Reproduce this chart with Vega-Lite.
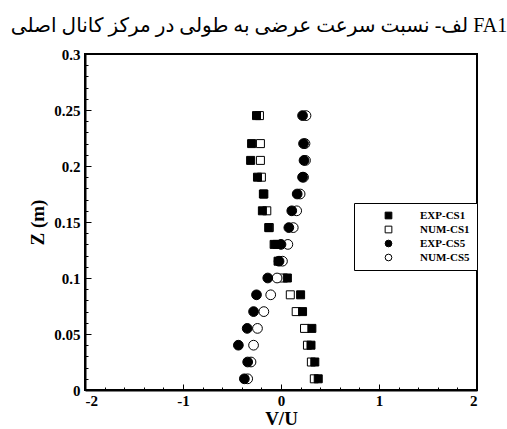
{
  "$schema": "https://vega.github.io/schema/vega-lite/v6.json",
  "autosize": "none",
  "width": 392,
  "height": 336,
  "padding": {"left": 85, "top": 54, "right": 30, "bottom": 39},
  "background": "white",
  "title": {
    "text": "\u200Eلف- نسبت سرعت عرضی به طولی در مرکز کانال اصلی FA1",
    "font": "Liberation Serif, DejaVu Sans",
    "fontSize": 20,
    "fontWeight": "normal",
    "color": "black",
    "anchor": "middle",
    "dx": -22,
    "offset": 11
  },
  "config": {
    "view": {"stroke": "black", "strokeWidth": 2},
    "axis": {
      "domainColor": "black",
      "domainWidth": 2,
      "tickColor": "black",
      "tickWidth": 1,
      "grid": false,
      "labelFont": "Liberation Serif",
      "labelFontWeight": "bold",
      "labelFontSize": 15,
      "labelColor": "black",
      "titleFont": "Liberation Serif",
      "titleFontWeight": "bold",
      "titleFontSize": 19,
      "titleColor": "black",
      "labelOverlap": false
    },
    "legend": {
      "title": null,
      "strokeColor": "black",
      "fillColor": "white",
      "padding": 7,
      "symbolOffset": 22,
      "labelOffset": 26,
      "symbolSize": 45,
      "symbolStrokeColor": "black",
      "symbolStrokeWidth": 1,
      "labelFont": "Liberation Serif",
      "labelFontWeight": "bold",
      "labelFontSize": 11,
      "labelColor": "black",
      "rowPadding": 2,
      "orient": "none",
      "legendX": 269,
      "legendY": 149
    }
  },
  "data": {
    "values": [
      {"series": "NUM-CS1", "z": 0.245, "v": -0.22},
      {"series": "NUM-CS1", "z": 0.22, "v": -0.21},
      {"series": "NUM-CS1", "z": 0.205, "v": -0.21},
      {"series": "NUM-CS1", "z": 0.19, "v": -0.2},
      {"series": "NUM-CS1", "z": 0.175, "v": -0.175},
      {"series": "NUM-CS1", "z": 0.16, "v": -0.145},
      {"series": "NUM-CS1", "z": 0.145, "v": -0.12},
      {"series": "NUM-CS1", "z": 0.13, "v": -0.04},
      {"series": "NUM-CS1", "z": 0.115, "v": -0.01},
      {"series": "NUM-CS1", "z": 0.1, "v": 0.025},
      {"series": "NUM-CS1", "z": 0.085, "v": 0.095},
      {"series": "NUM-CS1", "z": 0.07, "v": 0.155},
      {"series": "NUM-CS1", "z": 0.055, "v": 0.24},
      {"series": "NUM-CS1", "z": 0.04, "v": 0.27},
      {"series": "NUM-CS1", "z": 0.025, "v": 0.31},
      {"series": "NUM-CS1", "z": 0.01, "v": 0.34},
      {"series": "NUM-CS5", "z": 0.245, "v": 0.255},
      {"series": "NUM-CS5", "z": 0.22, "v": 0.245},
      {"series": "NUM-CS5", "z": 0.205, "v": 0.25},
      {"series": "NUM-CS5", "z": 0.19, "v": 0.23},
      {"series": "NUM-CS5", "z": 0.175, "v": 0.195},
      {"series": "NUM-CS5", "z": 0.16, "v": 0.16},
      {"series": "NUM-CS5", "z": 0.145, "v": 0.125},
      {"series": "NUM-CS5", "z": 0.13, "v": 0.07},
      {"series": "NUM-CS5", "z": 0.115, "v": 0.015},
      {"series": "NUM-CS5", "z": 0.1, "v": -0.04},
      {"series": "NUM-CS5", "z": 0.085, "v": -0.105},
      {"series": "NUM-CS5", "z": 0.07, "v": -0.175},
      {"series": "NUM-CS5", "z": 0.055, "v": -0.24},
      {"series": "NUM-CS5", "z": 0.04, "v": -0.28},
      {"series": "NUM-CS5", "z": 0.025, "v": -0.306},
      {"series": "NUM-CS5", "z": 0.01, "v": -0.34},
      {"series": "EXP-CS1", "z": 0.245, "v": -0.25},
      {"series": "EXP-CS1", "z": 0.22, "v": -0.3},
      {"series": "EXP-CS1", "z": 0.205, "v": -0.31},
      {"series": "EXP-CS1", "z": 0.19, "v": -0.24},
      {"series": "EXP-CS1", "z": 0.175, "v": -0.18},
      {"series": "EXP-CS1", "z": 0.16, "v": -0.19},
      {"series": "EXP-CS1", "z": 0.145, "v": -0.125},
      {"series": "EXP-CS1", "z": 0.13, "v": -0.07},
      {"series": "EXP-CS1", "z": 0.115, "v": -0.03},
      {"series": "EXP-CS1", "z": 0.1, "v": 0.065},
      {"series": "EXP-CS1", "z": 0.085, "v": 0.2},
      {"series": "EXP-CS1", "z": 0.07, "v": 0.22},
      {"series": "EXP-CS1", "z": 0.055, "v": 0.315},
      {"series": "EXP-CS1", "z": 0.04, "v": 0.306},
      {"series": "EXP-CS1", "z": 0.025, "v": 0.345},
      {"series": "EXP-CS1", "z": 0.01, "v": 0.38},
      {"series": "EXP-CS5", "z": 0.245, "v": 0.22},
      {"series": "EXP-CS5", "z": 0.22, "v": 0.23},
      {"series": "EXP-CS5", "z": 0.205, "v": 0.235},
      {"series": "EXP-CS5", "z": 0.19, "v": 0.22},
      {"series": "EXP-CS5", "z": 0.175, "v": 0.165},
      {"series": "EXP-CS5", "z": 0.16, "v": 0.11},
      {"series": "EXP-CS5", "z": 0.145, "v": 0.08},
      {"series": "EXP-CS5", "z": 0.13, "v": 0.0},
      {"series": "EXP-CS5", "z": 0.115, "v": -0.02},
      {"series": "EXP-CS5", "z": 0.1, "v": -0.135},
      {"series": "EXP-CS5", "z": 0.085, "v": -0.25},
      {"series": "EXP-CS5", "z": 0.07, "v": -0.28},
      {"series": "EXP-CS5", "z": 0.055, "v": -0.345},
      {"series": "EXP-CS5", "z": 0.04, "v": -0.435},
      {"series": "EXP-CS5", "z": 0.025, "v": -0.34},
      {"series": "EXP-CS5", "z": 0.01, "v": -0.374}
    ]
  },
  "encoding": {
    "x": {
      "field": "v",
      "type": "quantitative",
      "scale": {"domain": [-2, 2], "nice": false, "zero": false},
      "axis": {
        "title": "V/U",
        "values": [-2, -1.8, -1.6, -1.4, -1.2, -1, -0.8, -0.6, -0.4, -0.2, 0, 0.2, 0.4, 0.6, 0.8, 1, 1.2, 1.4, 1.6, 1.8, 2],
        "labelExpr": "abs(datum.value - round(datum.value)) < 0.001 ? '' + round(datum.value) : ''",
        "tickSize": {"condition": {"test": "abs(datum.value - round(datum.value)) < 0.001", "value": -6}, "value": -3},
        "labelPadding": 9,
        "titlePadding": -2
      }
    },
    "y": {
      "field": "z",
      "type": "quantitative",
      "scale": {"domain": [0, 0.3], "nice": false, "zero": false},
      "axis": {
        "title": "Z (m)",
        "values": [0, 0.01, 0.02, 0.03, 0.04, 0.05, 0.06, 0.07, 0.08, 0.09, 0.1, 0.11, 0.12, 0.13, 0.14, 0.15, 0.16, 0.17, 0.18, 0.19, 0.2, 0.21, 0.22, 0.23, 0.24, 0.25, 0.26, 0.27, 0.28, 0.29, 0.3],
        "labelExpr": "round(datum.value * 100) % 5 === 0 ? '' + datum.value : ''",
        "tickSize": {"condition": {"test": "round(datum.value * 100) % 5 === 0", "value": -6}, "value": -3},
        "labelPadding": 11,
        "titlePadding": 6
      }
    },
    "shape": {
      "field": "series",
      "type": "nominal",
      "scale": {"domain": ["EXP-CS1", "NUM-CS1", "EXP-CS5", "NUM-CS5"], "range": ["square", "square", "circle", "circle"]},
      "legend": {"orient": "none", "legendX": 269, "legendY": 149}
    },
    "fill": {
      "field": "series",
      "type": "nominal",
      "scale": {"domain": ["EXP-CS1", "NUM-CS1", "EXP-CS5", "NUM-CS5"], "range": ["black", "white", "black", "white"]},
      "legend": {"orient": "none", "legendX": 269, "legendY": 149}
    },
    "stroke": {
      "field": "series",
      "type": "nominal",
      "scale": {"domain": ["EXP-CS1", "NUM-CS1", "EXP-CS5", "NUM-CS5"], "range": ["black", "black", "black", "black"]},
      "legend": {"orient": "none", "legendX": 269, "legendY": 149}
    }
  },
  "layer": [
    {
      "transform": [{"filter": "indexof(datum.series, 'CS1') >= 0"}],
      "mark": {"type": "point", "filled": true, "strokeWidth": 1, "opacity": 1, "size": 64}
    },
    {
      "transform": [{"filter": "indexof(datum.series, 'CS5') >= 0"}],
      "mark": {"type": "point", "filled": true, "strokeWidth": 1, "opacity": 1, "size": 95}
    }
  ]
}
